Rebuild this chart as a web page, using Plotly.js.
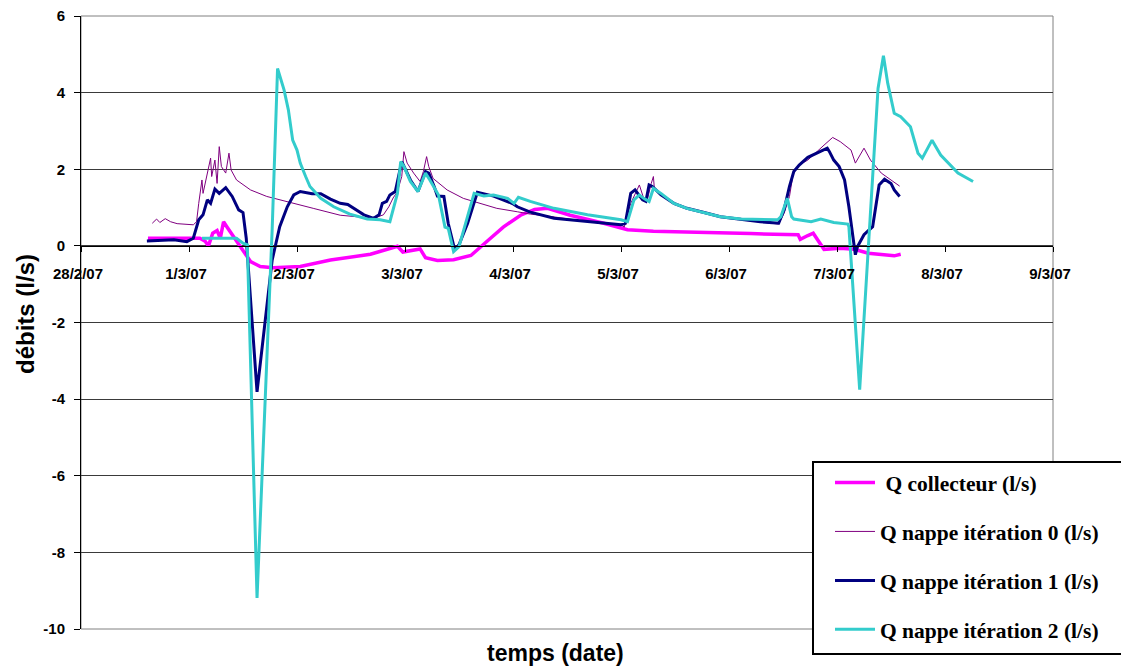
<!DOCTYPE html>
<html>
<head>
<meta charset="utf-8">
<script src="https://cdn.plot.ly/plotly-3.0.1.min.js"></script>
<style>html,body{margin:0;padding:0;background:#fff;}#chart{width:1121px;height:669px;}</style>
</head>
<body>
<div id="chart"></div>
<script>
// Time axis: days elapsed since 28/2/07 00:00
const tickDays = [0,1,2,3,4,5,6,7,8,9];
const tickLabels = ['28/2/07','1/3/07','2/3/07','3/3/07','4/3/07','5/3/07','6/3/07','7/3/07','8/3/07','9/3/07'];
const yTickVals = [-10,-8,-6,-4,-2,0,2,4,6];
const yTickLabels = ['-10','-8','-6','-4','-2','0','2','4','6'];

// Q collecteur (l/s)
const tCollecteur = [0.62,0.9,1.10,1.15,1.18,1.22,1.26,1.29,1.32,1.35,1.41,1.47,1.57,1.66,1.78,2.03,2.31,2.68,2.93,2.98,3.14,3.19,3.30,3.45,3.61,3.76,3.91,4.07,4.2,4.32,4.53,4.84,5.06,5.3,5.74,6.2,6.64,6.66,6.73,6.78,6.82,6.88,7.03,7.16,7.29,7.41,7.53,7.59];
const qCollecteur = [0.2,0.19,0.2,0.12,0.0,0.33,0.4,0.2,0.63,0.5,0.25,0.0,-0.41,-0.54,-0.57,-0.54,-0.37,-0.22,-0.01,-0.16,-0.08,-0.31,-0.38,-0.36,-0.25,0.12,0.49,0.8,0.95,0.98,0.8,0.59,0.42,0.38,0.34,0.32,0.29,0.17,0.27,0.33,0.16,-0.09,-0.06,-0.09,-0.19,-0.23,-0.26,-0.22];

// Q nappe itération 0 (l/s)
const tIter0 = [0.66,0.70,0.73,0.78,0.83,0.89,1.04,1.07,1.09,1.12,1.13,1.18,1.20,1.21,1.24,1.26,1.28,1.30,1.34,1.37,1.39,1.44,1.57,1.72,1.91,2.15,2.40,2.71,2.80,2.85,2.89,2.93,2.97,2.99,3.02,3.08,3.14,3.17,3.20,3.22,3.26,3.39,3.54,3.70,3.85,4.04,4.16,4.37,4.69,5.0,5.03,5.09,5.13,5.17,5.21,5.24,5.28,5.30,5.31,5.37,5.49,5.61,5.77,5.92,6.11,6.29,6.46,6.51,6.56,6.60,6.65,6.73,6.82,6.88,6.96,7.03,7.13,7.17,7.25,7.31,7.41,7.50,7.58];
const qIter0 = [0.59,0.70,0.61,0.71,0.63,0.58,0.55,0.63,1.11,1.72,1.37,1.98,2.29,1.81,2.24,1.63,2.59,2.07,1.9,2.42,1.98,1.72,1.46,1.29,1.16,0.98,0.80,0.72,0.81,1.02,1.25,1.42,1.81,2.46,2.16,1.9,1.68,1.94,2.33,2.07,1.76,1.46,1.24,1.1,0.98,0.89,0.83,0.76,0.63,0.55,0.49,1.11,1.33,1.59,1.24,1.16,1.63,1.81,1.46,1.37,1.11,0.98,0.85,0.76,0.68,0.63,0.57,0.85,1.29,1.98,2.11,2.24,2.46,2.63,2.83,2.72,2.5,2.16,2.55,2.24,1.9,1.72,1.56];

// Q nappe itération 1 (l/s)
const tIter1 = [0.61,0.86,0.98,1.04,1.09,1.13,1.17,1.20,1.24,1.28,1.34,1.40,1.46,1.50,1.53,1.63,1.77,1.84,1.91,1.97,2.03,2.09,2.14,2.22,2.31,2.40,2.47,2.62,2.71,2.76,2.79,2.83,2.86,2.91,2.97,3.05,3.12,3.19,3.22,3.27,3.30,3.36,3.40,3.46,3.50,3.58,3.67,3.82,4.0,4.04,4.16,4.38,4.69,5.0,5.04,5.09,5.13,5.20,5.23,5.26,5.29,5.37,5.49,5.61,5.77,5.92,6.29,6.46,6.51,6.56,6.60,6.65,6.73,6.82,6.91,6.93,6.97,7.02,7.07,7.11,7.17,7.19,7.25,7.33,7.36,7.39,7.44,7.50,7.53,7.58];
const qIter1 = [0.13,0.16,0.11,0.2,0.68,0.81,1.2,1.11,1.48,1.37,1.52,1.29,0.94,0.87,0.2,-3.81,-0.37,0.5,1.02,1.33,1.42,1.39,1.36,1.36,1.22,1.11,1.08,0.81,0.72,0.81,1.11,1.16,1.33,1.42,2.2,1.72,1.42,1.94,1.9,1.55,1.3,1.29,0.59,-0.1,0.03,0.59,1.4,1.3,1.1,1.02,0.88,0.72,0.63,0.55,0.59,1.37,1.46,1.2,1.16,1.59,1.55,1.33,1.11,0.98,0.87,0.76,0.63,0.59,0.94,1.55,1.94,2.11,2.31,2.44,2.55,2.46,2.24,2.07,1.72,1.02,-0.23,-0.02,0.29,0.5,1.11,1.59,1.74,1.63,1.46,1.29];

// Q nappe itération 2 (l/s)
const tIter2 = [1.12,1.44,1.50,1.54,1.63,1.77,1.82,1.88,1.92,1.96,2.0,2.03,2.08,2.12,2.22,2.34,2.49,2.65,2.77,2.86,2.93,2.96,2.99,3.05,3.12,3.19,3.23,3.31,3.37,3.40,3.45,3.50,3.64,3.73,3.82,3.95,4.01,4.05,4.16,4.38,4.69,5.0,5.06,5.12,5.17,5.21,5.26,5.30,5.37,5.49,5.61,5.77,5.92,6.11,6.29,6.45,6.48,6.54,6.58,6.60,6.76,6.85,6.97,7.10,7.11,7.21,7.38,7.43,7.47,7.53,7.59,7.68,7.75,7.79,7.88,7.96,8.12,8.26];
const qIter2 = [0.2,0.2,0.07,0.03,-9.19,0.42,4.63,4.07,3.55,2.76,2.5,2.16,1.81,1.55,1.24,1.02,0.83,0.70,0.68,0.63,1.37,2.2,2.07,1.68,1.42,1.9,1.72,1.33,0.49,0.46,-0.15,-0.02,1.37,1.3,1.33,1.24,1.11,1.27,1.16,0.98,0.81,0.68,0.63,1.2,1.33,1.24,1.16,1.5,1.37,1.11,0.98,0.87,0.76,0.70,0.68,0.68,0.76,1.24,0.76,0.70,0.63,0.70,0.61,0.57,0.5,-3.75,4.11,4.96,4.24,3.46,3.37,3.11,2.42,2.29,2.76,2.37,1.9,1.68];

const seriesNames = ['\u00a0Q collecteur (l/s)','Q nappe itération 0 (l/s)','Q nappe itération 1 (l/s)','Q nappe itération 2 (l/s)'];
const seriesColors = ['#FF00FF','#800080','#000080','#33CCCC'];
const seriesWidths = [3.5,1,3,3];

const xs = [tCollecteur,tIter0,tIter1,tIter2];
const ys = [qCollecteur,qIter0,qIter1,qIter2];

const traces = xs.map((x,i)=>({
  type:'scatter', mode:'lines', x:x, y:ys[i], name:seriesNames[i],
  legendgroup:'g'+i,
  line:{color:seriesColors[i], width:seriesWidths[i]}
}));

const W=1121,H=669,L=81,R=68,T=16,B=40;
const pw=W-L-R, ph=H-T-B;
const px=(v)=>(v-L)/pw, py=(v)=>(H-B-v)/ph;

const bold = {family:'Liberation Sans, Arial, sans-serif', size:15, color:'#000', weight:'bold'};

const layout = {
  width:W, height:H,
  margin:{l:L,r:R,t:T,b:B,pad:0},
  paper_bgcolor:'#fff', plot_bgcolor:'#fff',
  showlegend:true,
  xaxis:{
    type:'linear', range:[0,9], tickvals:tickDays, ticktext:tickLabels,
    anchor:'free', position:0.625,
    showline:true, linecolor:'#000', linewidth:1,
    ticks:'outside', ticklen:5, tickcolor:'#000', tickwidth:1,
    showgrid:false, zeroline:false,
    tickfont:bold, ticklabelstandoff:9, ticklabelshift:-3
  },
  yaxis:{
    range:[-10,6], tickvals:yTickVals, ticktext:yTickLabels,
    showline:true, linecolor:'#000', linewidth:1,
    ticks:'outside', ticklen:6, tickcolor:'#000',
    showgrid:true, gridcolor:'#3a3a3a', gridwidth:1,
    zeroline:false, tickfont:bold, ticklabelstandoff:6
  },
  shapes:[
    {type:'rect', xref:'paper', yref:'paper', x0:0, x1:1, y0:0, y1:1, line:{color:'#808080', width:1}, layer:'below'},
    {type:'rect', xref:'paper', yref:'paper', x0:px(813), x1:px(1125), y0:py(654), y1:py(462), line:{color:'#000', width:2}, fillcolor:'#fff', layer:'above'}
  ],
  legend:{
    x:px(830), xanchor:'left', y:py(462), yanchor:'top',
    bgcolor:'rgba(0,0,0,0)', borderwidth:0,
    font:{family:'Liberation Serif, Times New Roman, serif', size:21.5, color:'#000', weight:'bold'},
    traceorder:'grouped', tracegroupgap:18, itemwidth:40
  },
  annotations:[
    {text:'temps (date)', xref:'paper', yref:'paper', x:px(555), y:py(653), xanchor:'center', yanchor:'middle', showarrow:false,
     font:{family:'Liberation Sans, Arial, sans-serif', size:23, color:'#000', weight:'bold'}},
    {text:'débits (l/s)', xref:'paper', yref:'paper', x:px(25), y:py(314), xanchor:'center', yanchor:'middle', showarrow:false, textangle:-90,
     font:{family:'Liberation Sans, Arial, sans-serif', size:24, color:'#000', weight:'bold'}}
  ]
};

Plotly.newPlot('chart', traces, layout, {staticPlot:true, displayModeBar:false});
</script>
</body>
</html>
